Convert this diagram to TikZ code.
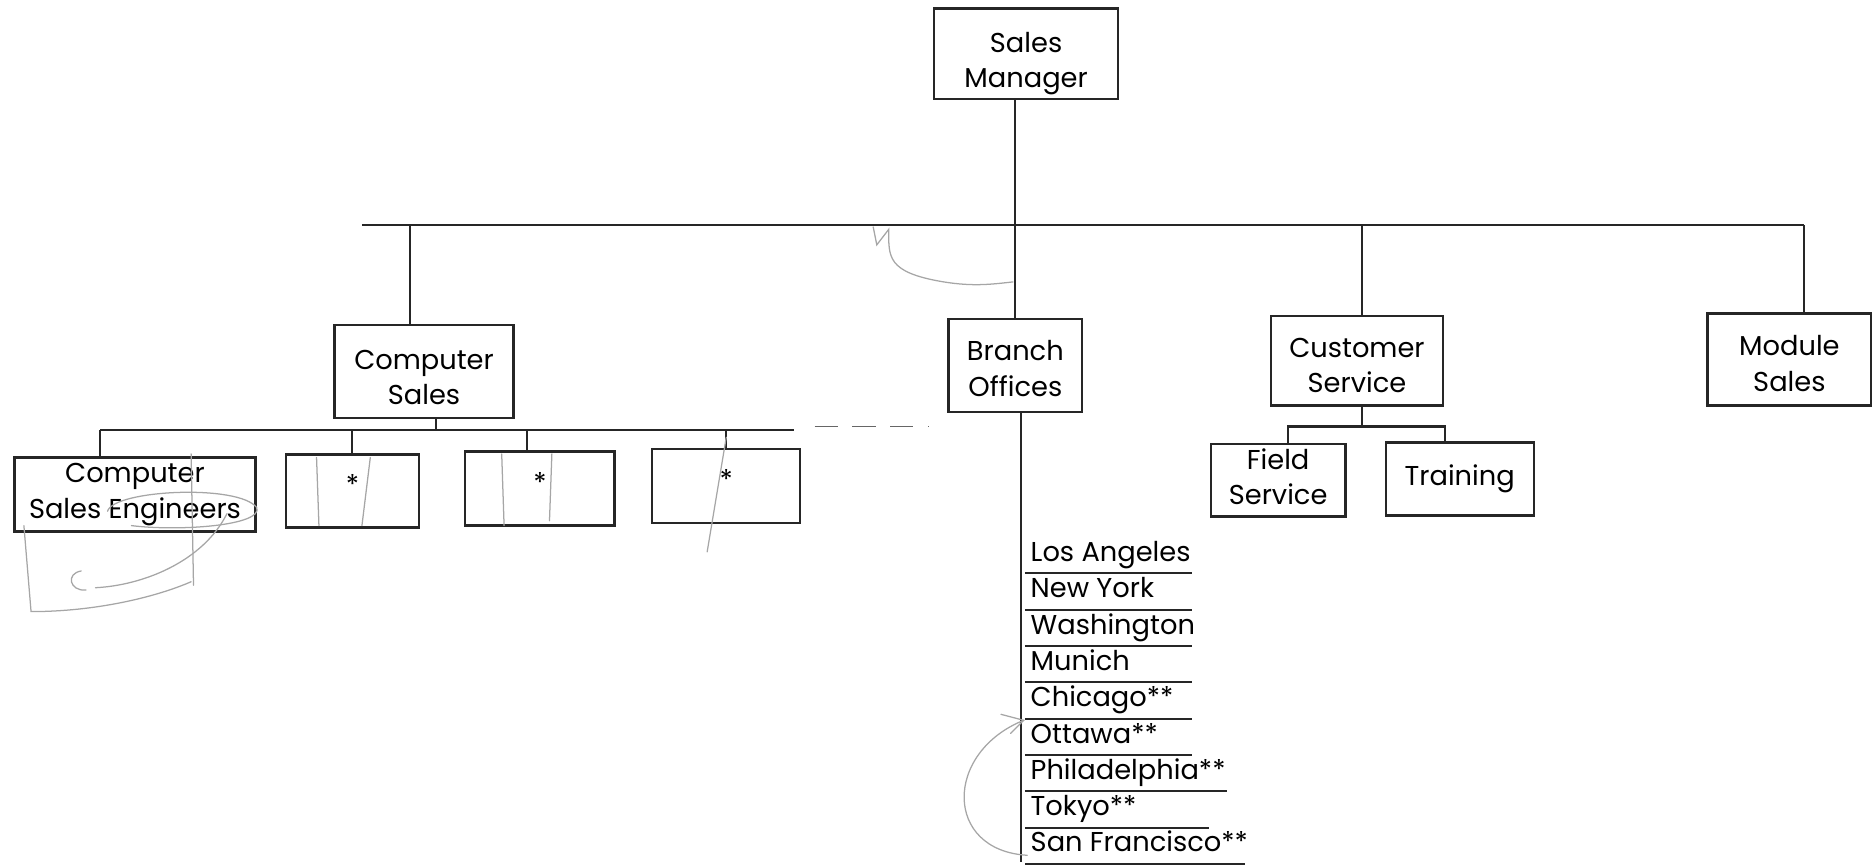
\documentclass[tikz,border=0pt]{standalone}
\usepackage{fontspec}
\setmainfont{Poppins}
\usetikzlibrary{positioning, calc}

\begin{document}
\begin{tikzpicture}[
		x=0.02cm, y=-0.02cm,
		font=\fontsize{13}{17}\selectfont,
		line width=1pt, draw=black!85,
		% Style for the organisation boxes
		unit/.style={draw=black!85, line width=1.1pt, align=center, inner sep=1pt},
		% tall boxes carry their text a little low
		low/.style={text depth=0pt, text height=#1},
		% Style for the branch office list
		city/.style={anchor=base west, inner sep=0pt},
		% Pencil notes on the sheet
		pencil/.style={draw=gray!70, line width=0.6pt, line cap=round}
		]
		\useasboundingbox (0,0) rectangle (1568,724);

		% top level
		\node[unit, low=32.5pt, minimum width=3.08cm, minimum height=1.52cm] (mgr) at (859,45) {Sales\\Manager};

		% second level
		\node[unit, low=31.8pt, minimum width=3.0cm, minimum height=1.56cm] (csales) at (355,311) {Computer\\Sales};
		\node[unit, low=29.5pt, minimum width=2.24cm, minimum height=1.56cm] (branch) at (850,306) {Branch\\Offices};
		\node[unit, low=30.6pt, minimum width=2.88cm, minimum height=1.5cm] (custsvc) at (1136,302) {Customer\\Service};
		\node[unit, low=30.6pt, minimum width=2.74cm, minimum height=1.54cm] (module) at (1498,301) {Module\\Sales};

		% main bus
		\coordinate (busL) at (303,188);
		\coordinate (busR) at (1510,188);
		\draw (busL) -- (busR);
		\draw (branch.north) -- (branch.north |- mgr.south);
		\draw ([xshift=-0.24cm]csales.north) -- ([xshift=-0.24cm]csales.north |- busL);
		\draw ([xshift=0.08cm]custsvc.north) -- ([xshift=0.08cm]custsvc.north |- busL);
		\draw ([xshift=0.24cm]module.north) -- ([xshift=0.24cm]module.north |- busL);

		% computer sales groups
		\node[unit, minimum width=4.04cm, minimum height=1.24cm] (cse) at (113,414) {Computer\\Sales Engineers};
		\node[unit, minimum width=2.22cm, minimum height=1.22cm, text depth=6pt] (star1) at (295,411) {*};
		\node[unit, minimum width=2.5cm, minimum height=1.24cm, text depth=6pt] (star2) at (452,409) {*};
		\node[unit, minimum width=2.48cm, minimum height=1.24cm, text depth=6pt] (star3) at (608,407) {*};

		\coordinate (csL) at (84,360);
		\coordinate (csR) at (665,360);
		\draw (csL) -- (csR);
		\draw[draw=black!60, line width=0.7pt, dash pattern=on 11pt off 7pt] (682,357) -- (778,357);
		\draw ([xshift=0.2cm]csales.south) -- ([xshift=0.2cm]csales.south |- csL);
		\draw ([xshift=-0.58cm]cse.north) -- ([xshift=-0.58cm]cse.north |- csL);
		\draw (star1.north) -- (star1.north |- csL);
		\draw ([xshift=-0.22cm]star2.north) -- ([xshift=-0.22cm]star2.north |- csL);
		\draw (star3.north) -- (star3.north |- csL);

		% customer service groups
		\node[unit, text depth=3.4pt, minimum width=2.26cm, minimum height=1.22cm] (field) at (1070,402) {Field\\Service};
		\node[unit, minimum width=2.48cm, minimum height=1.22cm] (training) at (1222,401) {Training};
		\coordinate (svL) at (1078,357);
		\draw ([xshift=0.08cm]custsvc.south) -- ([xshift=0.08cm]custsvc.south |- svL);
		\draw ([xshift=0.16cm]field.north) |- (svL) -| ([xshift=-0.24cm]training.north);

		% branch office list
		\coordinate (trunk) at (855,346);
		\draw (trunk) -- (855,722);
		\foreach \place/\len [count=\i] in {Los Angeles/998, New York/998, Washington/998,
				Munich/998, Chicago**/998, Ottawa**/998, Philadelphia**/1027,
				Tokyo**/1012, San Francisco**/1042} {
			\node[city] (city\i) at (862,{470+30.4*(\i-1)}) {\place};
			\draw (858,{480+30.4*(\i-1)}) -- (\len,{480+30.4*(\i-1)});
		}

		% pencil marks
		\draw[pencil] (731,190) -- (734,205) -- (744,192) .. controls (744,215) and (742,228) .. (790,236)
			.. controls (815,240) and (830,238) .. (848,236);
		\draw[pencil] (90,428) .. controls (95,410) and (200,405) .. (215,425)
			.. controls (220,440) and (150,445) .. (110,440);
		\draw[pencil] (160,380) -- (162,490);
		\draw[pencil] (20,440) -- (26,512) .. controls (80,512) and (130,500) .. (160,487);
		\draw[pencil] (190,430) .. controls (170,470) and (120,490) .. (80,492);
		\draw[pencil] (68,478) .. controls (55,480) and (58,495) .. (72,494);
		\draw[pencil] (265,383) -- (267,440);
		\draw[pencil] (310,383) -- (303,440);
		\draw[pencil] (420,380) -- (422,440);
		\draw[pencil] (462,380) -- (460,436);
		\draw[pencil] (608,366) -- (592,462);
		\draw[pencil] (860,716) .. controls (790,712) and (790,630) .. (857,603);
		\draw[pencil] (838,598) -- (857,603) -- (846,614);
	\end{tikzpicture}
\end{document}
